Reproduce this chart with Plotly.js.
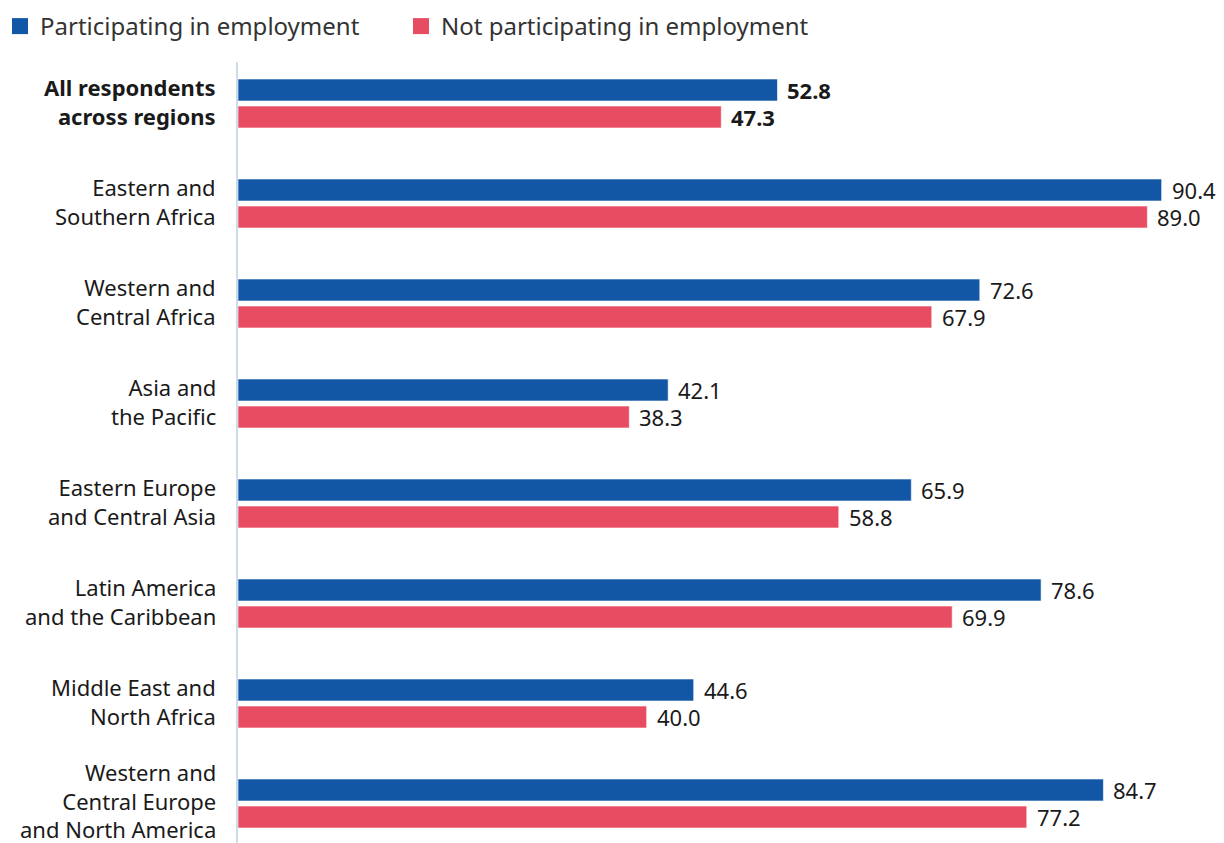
<!DOCTYPE html>
<html><head><meta charset="utf-8">
<script src="https://cdn.plot.ly/plotly-3.0.1.min.js"></script>
<style>body{margin:0;background:#fff}#c{width:1224px;height:843px}</style>
</head><body><div id="c"></div>
<script>
const categories = [
  "<b>All respondents</b><br><b>across regions</b>",
  "Eastern and<br>Southern Africa",
  "Western and<br>Central Africa",
  "Asia and<br>the Pacific",
  "Eastern Europe<br>and Central Asia",
  "Latin America<br>and the Caribbean",
  "Middle East and<br>North Africa",
  "Western and<br>Central Europe<br>and North America"
];
const participating = [52.8, 90.4, 72.6, 42.1, 65.9, 78.6, 44.6, 84.7];
const notParticipating = [47.3, 89.0, 67.9, 38.3, 58.8, 69.9, 40.0, 77.2];
const seriesNames = ["Participating in employment", "Not participating in employment"];
const colors = ["#1157a6", "#e84c63"];

const font = "Noto Sans, sans-serif";
const fmt = (v, i) => i === 0 ? "<b>" + v.toFixed(1) + "</b>" : v.toFixed(1);

const traces = [participating, notParticipating].map((vals, k) => ({
  type: "bar", orientation: "h", name: seriesNames[k],
  x: vals, y: categories, showlegend: false,
  marker: {color: colors[k], line: {color: "rgba(255,255,255,0.6)", width: 1}},
  hoverinfo: "none"
}));
seriesNames.forEach((n, k) => traces.push({
  type: "scatter", mode: "markers", name: n, x: [null], y: [null],
  legend: k === 0 ? "legend" : "legend2",
  marker: {symbol: "square", size: 16, color: colors[k]}, showlegend: true
}));

const annotations = [];
[participating, notParticipating].forEach((vals, k) => {
  vals.forEach((v, i) => annotations.push({
    x: v, y: categories[i], xref: "x", yref: "y", text: fmt(v, i),
    showarrow: false, xanchor: "left", yanchor: "middle",
    xshift: 8, yshift: k === 0 ? 13.5 : -13.5,
    font: {family: font, size: 22, color: "#1a1a1a"}
  }));
});
categories.forEach((c, i) => annotations.push({
  x: 0, y: c, xref: "paper", yref: "y", text: c, showarrow: false,
  xanchor: "right", yanchor: "middle", align: "right",
  xshift: -20, yshift: i === categories.length - 1 ? 3 : 2,
  font: {family: font, size: 22, color: "#1a1a1a"}
}));

const legendBase = {orientation: "h", xref: "container", yref: "container", y: 1 - 4/843,
  xanchor: "left", yanchor: "top", font: {family: font, size: 24, color: "#333"},
  itemclick: false, bgcolor: "rgba(0,0,0,0)"};

const layout = {
  width: 1224, height: 843,
  margin: {l: 238, r: 0, t: 62, b: 0, pad: 0},
  paper_bgcolor: "#fff", plot_bgcolor: "#fff",
  barmode: "group", bargap: 0.46, bargroupgap: 0.185,
  font: {family: font, size: 22, color: "#1a1a1a"},
  xaxis: {range: [0, 96.5], showgrid: false, zeroline: false, showticklabels: false, showline: false, fixedrange: true},
  yaxis: {type: "category", range: [7.395, -0.415], showgrid: false, zeroline: false,
    showline: true, linecolor: "#cddcea", linewidth: 2, showticklabels: false, ticks: ""},
  legend: Object.assign({}, legendBase, {x: -3/1224}),
  legend2: Object.assign({}, legendBase, {x: 401/1224}),
  annotations: annotations,
  showlegend: true
};
Plotly.newPlot("c", traces, layout, {displayModeBar: false, staticPlot: true});
</script></body></html>
